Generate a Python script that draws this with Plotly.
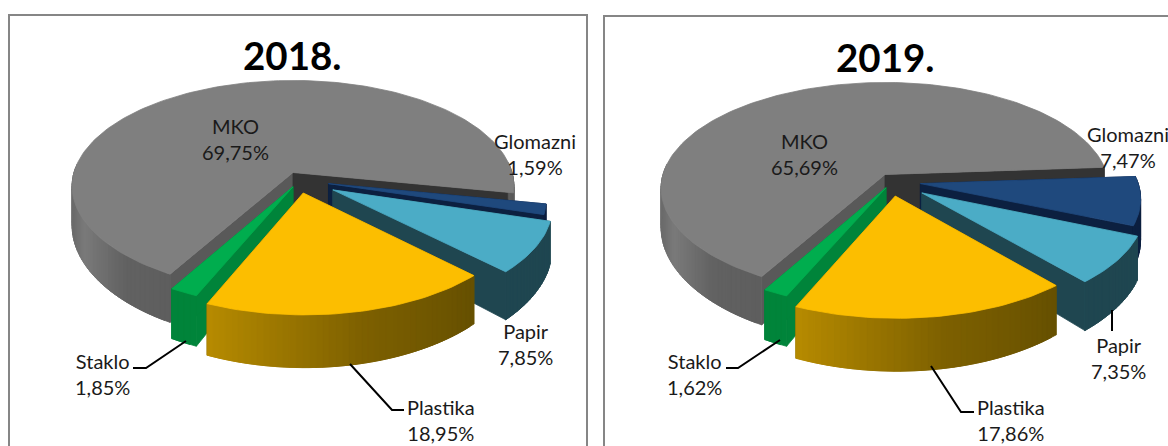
import math
import plotly.graph_objects as go

# ---------- data ----------
categories = ["MKO", "Glomazni", "Papir", "Plastika", "Staklo"]
values_2018 = [69.75, 1.59, 7.85, 18.95, 1.85]
values_2019 = [65.69, 7.47, 7.35, 17.86, 1.62]
labels_2018 = ["69,75%", "1,59%", "7,85%", "18,95%", "1,85%"]
labels_2019 = ["65,69%", "7,47%", "7,35%", "17,86%", "1,62%"]
titles = ["2018.", "2019."]

# ---------- style / layout ----------
TOP = {"MKO": "#7f7f7f", "Glomazni": "#1f497d", "Papir": "#4bacc6", "Plastika": "#fcbe00", "Staklo": "#00ad4e"}
CUT_R = {"MKO": "#333333", "Glomazni": "#0c2040", "Papir": "#1f4650", "Plastika": "#6b5300", "Staklo": "#00843a"}
CUT_L = {"MKO": "#595959", "Glomazni": "#0c2040", "Papir": "#1f4650", "Plastika": "#6b5300", "Staklo": "#00843a"}
WALL = {
    "MKO": [(0, "#5c5c5c"), (0.55, "#626262"), (0.9, "#7a7a7a"), (1, "#6c6c6c")],
    "Glomazni": [(0, "#0c2040"), (1, "#0c2040")],
    "Papir": [(0, "#1f4650"), (1, "#1f4650")],
    "Plastika": [(0, "#b88c00"), (0.55, "#7d6000"), (1, "#665000")],
    "Staklo": [(0, "#00843a"), (1, "#00843a")],
}
DRAW_ORDER = ["MKO", "Glomazni", "Papir", "Staklo", "Plastika"]
RADIUS = {"MKO": 1.0, "Glomazni": 0.97, "Papir": 0.97, "Plastika": 0.97, "Staklo": 0.97}

CHARTS = [
    dict(values=values_2018, labels=labels_2018, title=titles[0], title_x=292, title_y=55,
         cx=293, cy=172.5, a=219, b=104, k=0.13, depth=38, end=11.0,
         offset={"MKO": (0, 0), "Glomazni": (35, 11), "Papir": (39, 17), "Plastika": (10, 20), "Staklo": (0, 14)},
         frame=(9, 15, 587, 470),
         pos={"MKO": (235, 139), "Glomazni": (535, 154), "Papir": (525, 344), "Plastika": (441, 420), "Staklo": (102, 374)},
         leaders=[[(186, 341), (146, 368), (133, 368)], [(350, 364), (392, 410), (404, 410)]]),
    dict(values=values_2019, labels=labels_2019, title=titles[1], title_x=885, title_y=57,
         cx=885, cy=174.5, a=222, b=104, k=0.13, depth=38, end=-4.0,
         offset={"MKO": (0, 0), "Glomazni": (35, 9), "Papir": (36, 18), "Plastika": (10, 21), "Staklo": (1, 13)},
         frame=(604, 16, 1200, 470),
         pos={"MKO": (804, 154), "Glomazni": (1128, 147), "Papir": (1118, 358), "Plastika": (1011, 420), "Staklo": (694, 374)},
         leaders=[[(780, 340), (738, 368), (726, 368)], [(931, 366), (961, 412), (974, 412)], [(1112, 310), (1112, 331)]]),
]


def hexrgb(c):
    return tuple(int(c[i:i + 2], 16) for i in (1, 3, 5))


def ramp(stops, t):
    for (t0, c0), (t1, c1) in zip(stops, stops[1:]):
        if t <= t1:
            f = (t - t0) / (t1 - t0) if t1 > t0 else 0
            a, b = hexrgb(c0), hexrgb(c1)
            return "rgb(%d,%d,%d)" % tuple(round(a[i] + (b[i] - a[i]) * f) for i in range(3))
    return stops[-1][1]


fig = go.Figure()


def poly(pts, color):
    xs = [p[0] for p in pts] + [pts[0][0]]
    ys = [p[1] for p in pts] + [pts[0][1]]
    fig.add_trace(go.Scatter(x=xs, y=ys, mode="lines", fill="toself", fillcolor=color,
                             line=dict(color=color, width=0.8), hoverinfo="skip", showlegend=False))


def draw_pie(ch):
    cx, cy, a, b, k, depth = ch["cx"], ch["cy"], ch["a"], ch["b"], ch["k"], ch["depth"]

    def project(u, v, ox, oy, down=0):
        uu, vv = u + ox / a, v + oy / b
        s = 1 / (1 - k * vv)
        return (cx + a * uu * s, cy + b * vv * s + down * s * s)

    total = sum(ch["values"])
    # slices run clockwise on screen; MKO ends at angle `end`
    angle = ch["end"] - ch["values"][0] / total * 360
    spans = {}
    for name, val in zip(categories, ch["values"]):
        spans[name] = (angle, angle + val / total * 360)
        angle += val / total * 360

    for name in DRAW_ORDER:
        t0, t1 = spans[name]
        ox, oy = ch["offset"][name]
        r = RADIUS[name]
        n = max(4, int((t1 - t0) / 1.5))
        arc = [(r * math.cos(math.radians(t0 + (t1 - t0) * i / n)), r * math.sin(math.radians(t0 + (t1 - t0) * i / n)))
               for i in range(n + 1)]
        centre = (0, 0)
        # cut faces go first so that the outer wall covers those facing away
        for edge, col in ((arc[0], CUT_L[name]), (arc[-1], CUT_R[name])):
            pts = [project(*centre, ox, oy), project(*edge, ox, oy),
                   project(*edge, ox, oy, depth), project(*centre, ox, oy, depth)]
            poly(pts, col)
        # outer wall strips, each one reaching over the next to hide the seams
        for i in range(n):
            (u0, v0), (u1, v1) = arc[i], arc[min(i + 2, n)]
            if v0 < -0.05 and v1 < -0.05:
                continue
            pts = [project(u0, v0, ox, oy), project(*arc[i + 1], ox, oy), project(u1, v1, ox, oy),
                   project(u1, v1, ox, oy, depth), project(*arc[i + 1], ox, oy, depth), project(u0, v0, ox, oy, depth)]
            if name == "MKO":
                tt = (pts[0][0] - (cx - a)) / (a * 0.52)
                tt = max(0, min(1, 1 - tt))
            else:
                tt = i / n
                if name == "Plastika":
                    tt = 1 - tt
            poly(pts, ramp(WALL[name], tt))
        # top surface
        poly([project(*centre, ox, oy)] + [project(u, v, ox, oy) for u, v in arc], TOP[name])


shapes = []
annotations = []
for ch in CHARTS:
    x0, y0, x1, y1 = ch["frame"]
    shapes.append(dict(type="rect", x0=x0, y0=y0, x1=x1, y1=y1, xref="x", yref="y",
                       line=dict(color="#868686", width=2), fillcolor="white", layer="below"))
    draw_pie(ch)
    for seg in ch["leaders"]:
        fig.add_trace(go.Scatter(x=[p[0] for p in seg], y=[p[1] for p in seg], mode="lines",
                                 line=dict(color="black", width=2), hoverinfo="skip", showlegend=False))
    annotations.append(dict(x=ch["title_x"], y=ch["title_y"], text="<b>%s</b>" % ch["title"], showarrow=False,
                            xref="x", yref="y", font=dict(family="Lato", size=38.5, color="black")))
    for name, lab in zip(categories, ch["labels"]):
        px, py = ch["pos"][name]
        annotations.append(dict(x=px, y=py, text="%s<br>%s" % (name, lab), showarrow=False, xref="x", yref="y",
                                align="center", font=dict(family="Lato", size=20, color="#1a1a1a")))

fig.update_layout(
    width=1168, height=446, margin=dict(l=0, r=0, t=0, b=0),
    paper_bgcolor="white", plot_bgcolor="white", showlegend=False,
    xaxis=dict(range=[0, 1168], visible=False, fixedrange=True),
    yaxis=dict(range=[446, 0], visible=False, fixedrange=True),
    shapes=shapes, annotations=annotations,
)
fig.write_html("out.html", config={"displayModeBar": False},
               post_script="document.body.style.margin='0';document.body.style.overflow='hidden';")
